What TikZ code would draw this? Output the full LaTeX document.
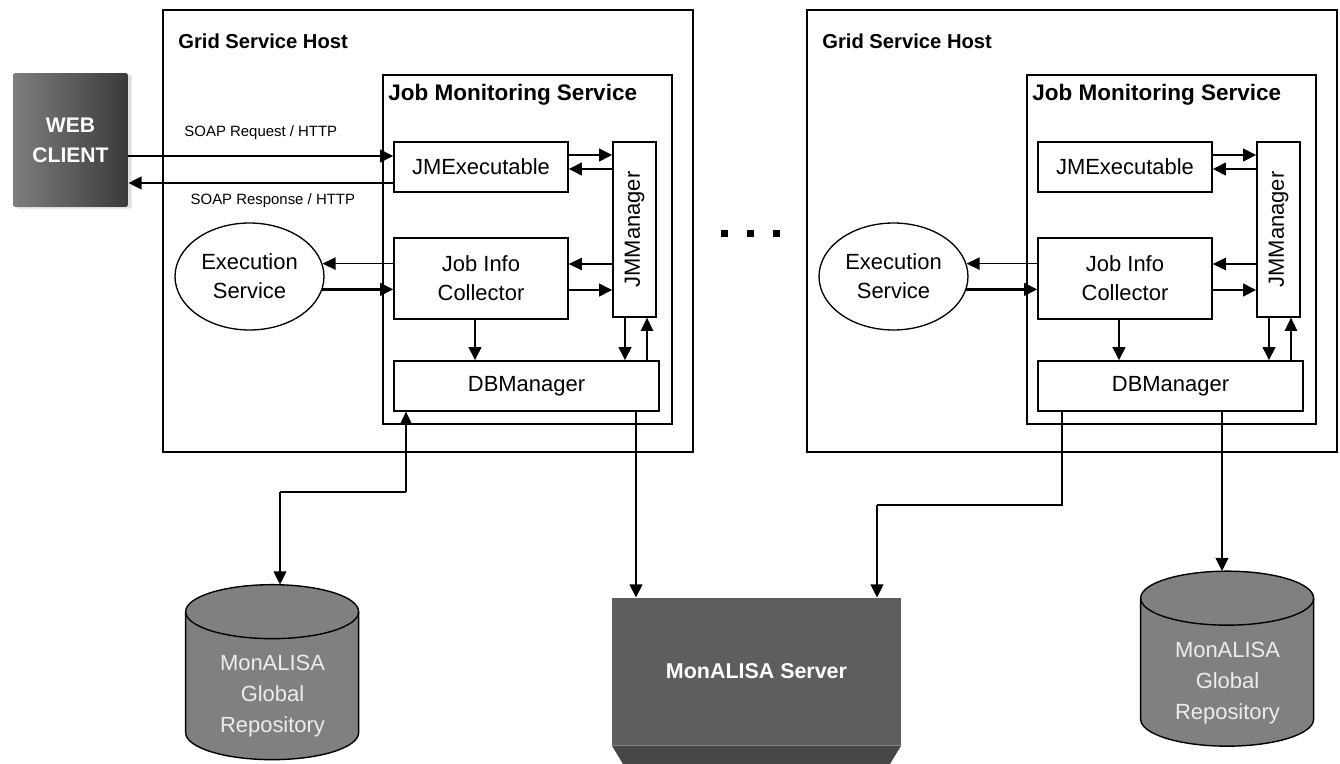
\documentclass[tikz,border=0pt]{standalone}
\usepackage{fontspec}
\setmainfont{Liberation Sans}
\usepackage{graphicx}
\usepackage{xcolor}
\usetikzlibrary{arrows.meta,positioning,shapes.geometric,shadows}

\definecolor{ClientLight}{HTML}{7E7E7E}
\definecolor{ClientDark}{HTML}{3A3A3A}
\definecolor{RepoGray}{HTML}{808080}
\definecolor{RepoText}{HTML}{EDEDED}
\definecolor{ServerGray}{HTML}{5E5E5E}
\definecolor{ServerBase}{HTML}{474747}

\begin{document}
\begin{tikzpicture}[x=0.02cm, y=-0.02cm]
    \tikzstyle{host-box}=[rectangle, draw, line width=0.8pt, inner sep=0pt]
    \tikzstyle{comp-box}=[rectangle, draw, line width=0.75pt, inner sep=0pt, fill=white, align=center, font=\fontsize{12.5}{16.4}\selectfont]
    \tikzstyle{box-title}=[anchor=base west, inner sep=0pt, font=\fontsize{11.5}{14}\selectfont\bfseries]
    \tikzstyle{soap-label}=[inner sep=0pt, font=\fontsize{8.5}{10}\selectfont]
    \tikzstyle{repo}=[rectangle, inner sep=0pt, minimum width=3.46cm, minimum height=3.5cm]
    \tikzstyle{repo-body}=[fill=RepoGray, draw, line width=0.8pt]
    \tikzstyle{repo-cap}=[x radius=1.73cm, y radius=0.54cm]
    \tikzstyle{repo-text}=[text=RepoText, align=center, font=\fontsize{12.5}{17.6}\selectfont]
    \tikzstyle{fleche}=[-{Triangle[length=7.5pt, width=7pt]}, line width=1.6pt]
    \tikzstyle{fleche-fine}=[-{Triangle[length=7.5pt, width=7pt]}, line width=0.8pt]

    \useasboundingbox (0,0) rectangle (1340,764);

    % left host
    \node[host-box, minimum width=10.6cm, minimum height=8.84cm] (host-a) at (428,231) {};
    \node[box-title] at (178,49) {Grid Service Host};
    \node[host-box, minimum width=5.78cm, minimum height=6.98cm] (jms-a) at (527.5,249.5) {};
    \node[box-title, font=\fontsize{12.8}{15}\selectfont\bfseries] at (388,100) {Job Monitoring Service};

    \node[comp-box, minimum width=3.48cm, minimum height=1.0cm] (jmexec-a) at (481,167) {JMExecutable};
    \node[comp-box, minimum width=0.86cm, minimum height=3.5cm] (jmmanager-a) at (634.5,229.5) {\rotatebox{90}{JMManager}};
    \node[comp-box, minimum width=3.48cm, minimum height=1.62cm] (collector-a) at (481,278.5) {Job Info\\Collector};
    \node[comp-box, minimum width=5.3cm, minimum height=1.0cm] (dbmanager-a) at (526.5,386) {DBManager};
    \node[comp-box, ellipse, minimum width=2.98cm, minimum height=2.14cm] (execution-a) at (249.5,276.5) {Execution\\Service};

    % right host
    \node[host-box, minimum width=10.6cm, minimum height=8.84cm] (host-b) at (1072,231) {};
    \node[box-title] at (822,49) {Grid Service Host};
    \node[host-box, minimum width=5.78cm, minimum height=6.98cm] (jms-b) at (1171.5,249.5) {};
    \node[box-title, font=\fontsize{12.8}{15}\selectfont\bfseries] at (1032,100) {Job Monitoring Service};

    \node[comp-box, minimum width=3.48cm, minimum height=1.0cm] (jmexec-b) at (1125,167) {JMExecutable};
    \node[comp-box, minimum width=0.86cm, minimum height=3.5cm] (jmmanager-b) at (1278.5,229.5) {\rotatebox{90}{JMManager}};
    \node[comp-box, minimum width=3.48cm, minimum height=1.62cm] (collector-b) at (1125,278.5) {Job Info\\Collector};
    \node[comp-box, minimum width=5.3cm, minimum height=1.0cm] (dbmanager-b) at (1170.5,386) {DBManager};
    \node[comp-box, ellipse, minimum width=2.98cm, minimum height=2.14cm] (execution-b) at (893.5,276.5) {Execution\\Service};

    % dots between the hosts
    \foreach \x in {724,750,776}
        \fill (\x-3.5,229.5) rectangle (\x+3.5,236.5);

    % web client
    \node[rectangle, minimum width=2.3cm, minimum height=2.68cm, left color=ClientLight, right color=ClientDark, rounded corners=1pt, drop shadow={shadow xshift=2pt, shadow yshift=-1pt, fill=black!25}, text=white, align=center, font=\fontsize{12}{17}\selectfont\bfseries] (web-client) at (70.5,140) {WEB\\CLIENT};

    % monalisa server
    \node[rectangle, fill=ServerGray, minimum width=5.78cm, minimum height=2.94cm, text=white, font=\fontsize{12.2}{15}\selectfont\bfseries] (server) at (756.5,671.5) {MonALISA Server};
    \fill[ServerBase] (server.south west) -- (server.south east) -- (890,764) -- (623,764) -- cycle;

    % repositories
    \foreach \r/\x/\y in {a/272.5/672.5, b/1227.5/659} {
        \node[repo] (repo-\r) at (\x,\y) {};
        \path[repo-body] (repo-\r.north west) ++(0,27) -- ++(0,121) arc[start angle=180, end angle=360, repo-cap] -- ++(0,-121) arc[start angle=0, end angle=180, repo-cap] -- cycle;
        \draw[line width=0.8pt] (repo-\r.north west) ++(0,27) arc[start angle=180, end angle=360, repo-cap];
        \node[repo-text] at ([yshift=-0.48cm]repo-\r.center) {MonALISA\\Global\\Repository};
    }

    % soap exchange
    \draw[fleche] (web-client.east |- 0,156) -- node[soap-label, above=0.29cm] {SOAP Request / HTTP} (jmexec-a.west |- 0,156);
    \draw[fleche] (jmexec-a.west |- 0,183) -- node[soap-label, below=0.18cm, xshift=0.24cm] {SOAP Response / HTTP} (web-client.east |- 0,183);

    % inside the job monitoring services
    \foreach \s/\d in {a/0,b/644} {
        \draw[fleche] (jmexec-\s.east |- 0,155) -- (jmmanager-\s.west |- 0,155);
        \draw[fleche] (jmmanager-\s.west |- 0,169) -- (jmexec-\s.east |- 0,169);
        \draw[fleche-fine] (jmmanager-\s.west |- 0,264) -- (collector-\s.east |- 0,264);
        \draw[fleche] (collector-\s.east |- 0,290) -- (jmmanager-\s.west |- 0,290);
        \draw[fleche-fine] (collector-\s.west |- execution-\s.10.6) -- (execution-\s.10.6);
        \draw[fleche] (execution-\s.-10.6) -- (collector-\s.west |- execution-\s.-10.6);
        \draw[fleche] (collector-\s.south -| 475+\d,0) -- (dbmanager-\s.north -| 475+\d,0);
        \draw[fleche] (jmmanager-\s.south -| 625+\d,0) -- (dbmanager-\s.north -| 625+\d,0);
        \draw[fleche-fine] (dbmanager-\s.north -| 647+\d,0) -- (jmmanager-\s.south -| 647+\d,0);
    }

    % towards repositories and server
    \coordinate (turn-a) at (406,492);
    \coordinate (turn-b) at (1062,505);
    \draw[fleche-fine] (turn-a) -- (dbmanager-a.south -| turn-a);
    \draw[line width=0.8pt] (turn-a) -- (turn-a -| 280,0);
    \draw[fleche] (turn-a -| 280,0) -- (repo-a.north -| 280,0);
    \draw[fleche] (dbmanager-a.south -| 636,0) -- (server.north -| 636,0);
    \draw[line width=0.8pt] (dbmanager-b.south -| turn-b) -- (turn-b) -- (turn-b -| 877,0);
    \draw[fleche] (turn-b -| 877,0) -- (server.north -| 877,0);
    \draw[fleche] (dbmanager-b.south -| 1222,0) -- (repo-b.north -| 1222,0);
\end{tikzpicture}
\end{document}
